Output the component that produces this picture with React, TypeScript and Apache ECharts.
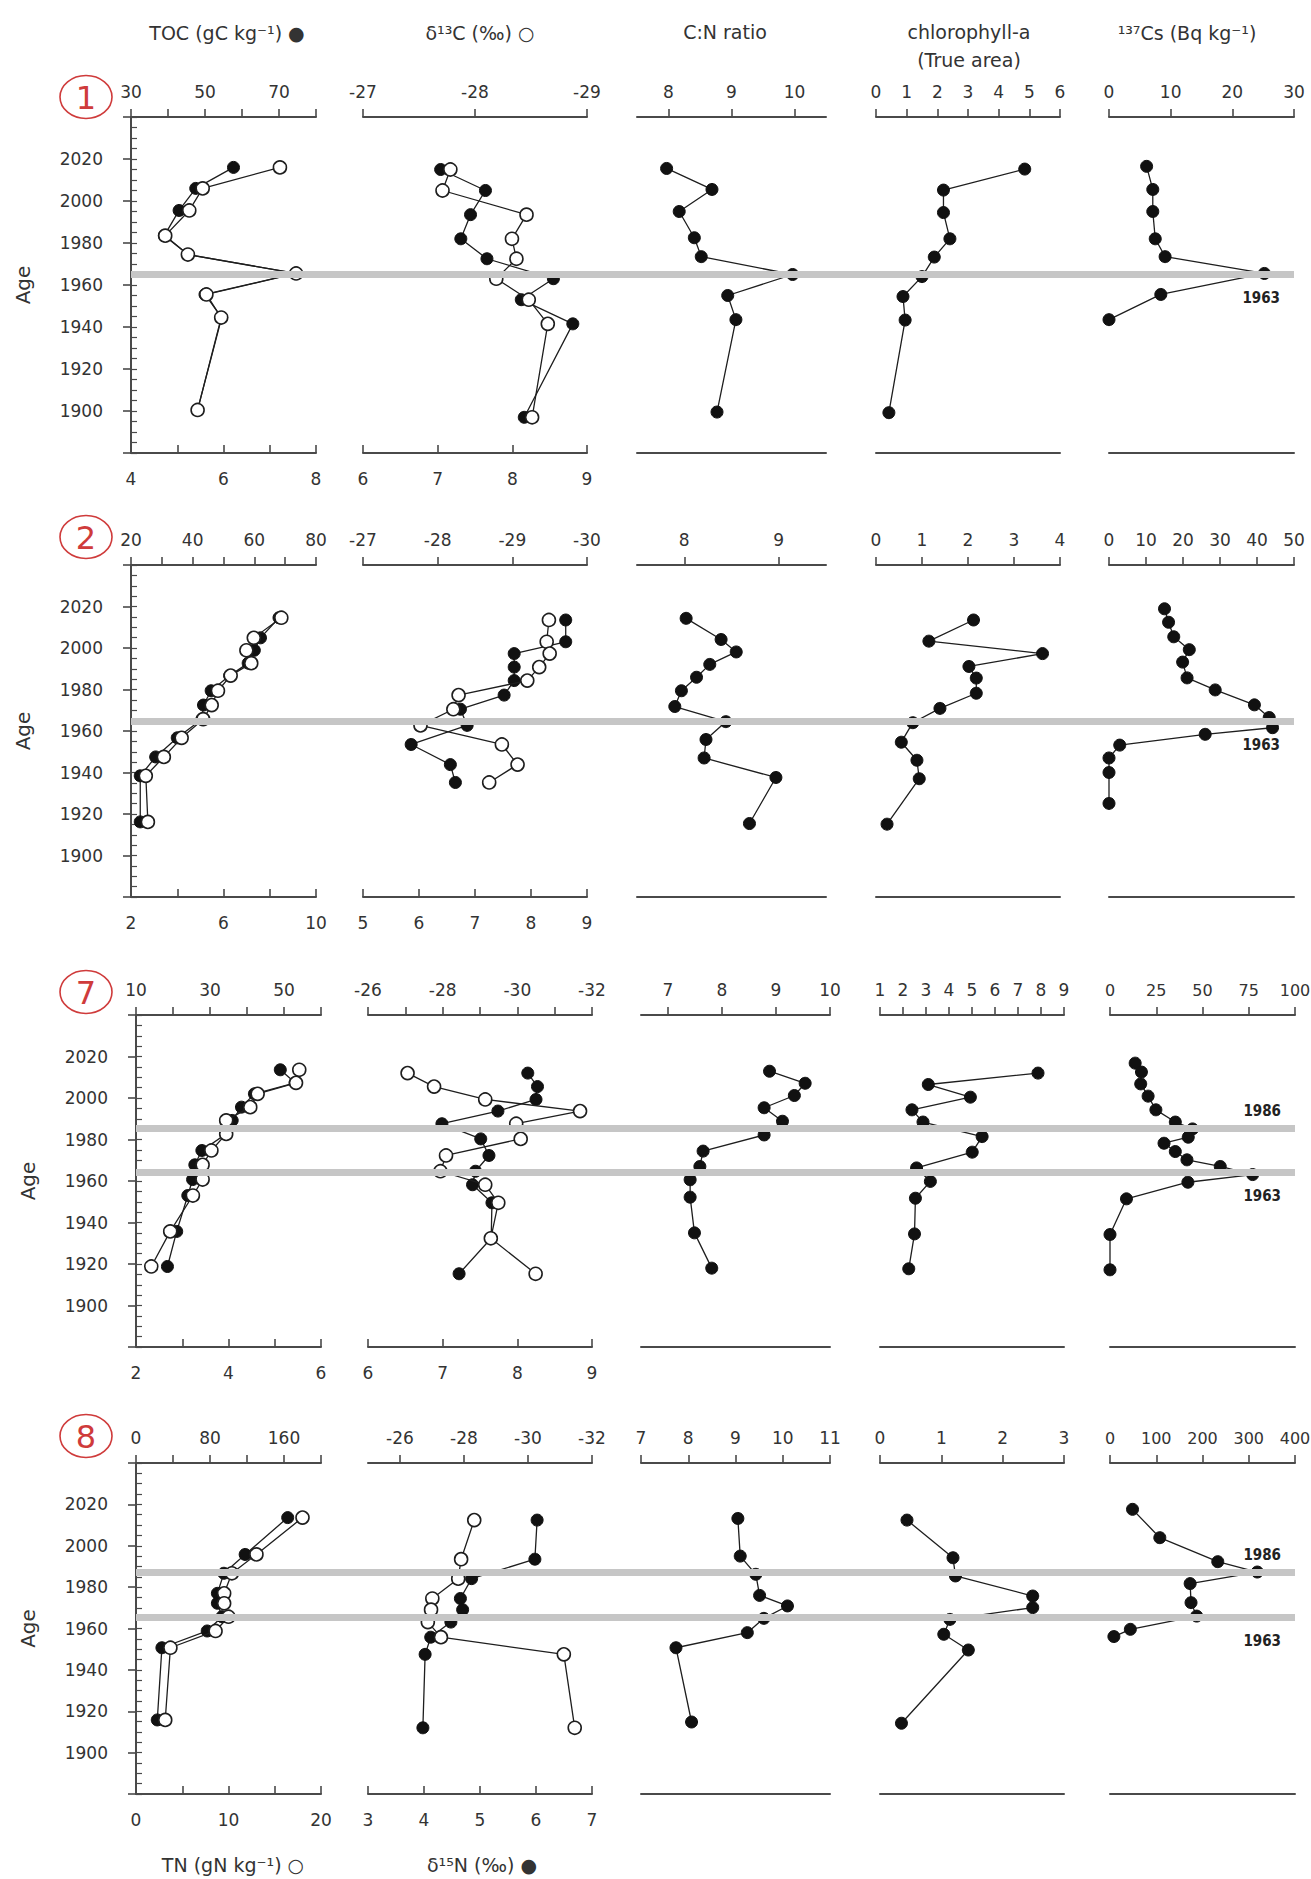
import React, { useEffect, useRef } from "react";
import * as echarts from "echarts";

const FONT = "DejaVu Sans";
const TXT = "#333333";
const AX = "#4a4a4a";
const RED = "#cf3b3b";

// ---------------- Lake 1 ----------------
const age1 = [2016, 2006, 1995.5, 1983.5, 1974.5, 1965.5, 1955.5, 1944.5, 1900.5];
const toc1 = [57.7, 47.5, 43, 39, 45.4, 74.5, 50, 54.5, 48];
const tn1 = [7.22, 5.55, 5.26, 4.74, 5.23, 7.57, 5.63, 5.95, 5.44];
const ageIso1 = [2015, 2005, 1993.5, 1982, 1972.5, 1963, 1953, 1941.5, 1897];
const d13c1 = [-27.78, -27.71, -28.46, -28.33, -28.37, -28.19, -28.48, -28.65, -28.51];
const d15n1 = [7.04, 7.64, 7.44, 7.31, 7.66, 8.55, 8.12, 8.81, 8.16];
const ageCn1 = [2015.5, 2005.5, 1995, 1982.5, 1973.5, 1965, 1955, 1943.5, 1899.5];
const cn1 = [7.97, 8.69, 8.17, 8.41, 8.52, 9.97, 8.94, 9.07, 8.77];
const ageChl1 = [2015.2, 2005.2, 1994.5, 1982, 1973.3, 1964, 1954.5, 1943.3, 1899.2];
const chl1 = [4.85, 2.2, 2.2, 2.41, 1.9, 1.5, 0.88, 0.95, 0.42];
const ageCs1 = [2016.5, 2005.5, 1995, 1982, 1973.5, 1965.5, 1955.5, 1943.5];
const cs1 = [6.1, 7.1, 7.1, 7.5, 9.1, 25.2, 8.4, 0];

// ---------------- Lake 2 ----------------
const age2 = [2014.6, 2004.9, 1998.9, 1992.7, 1986.7, 1979.4, 1972.5, 1965.7, 1956.7, 1947.5, 1938.4, 1916.2];
const toc2 = [68, 62, 60, 58, 52, 46, 43.5, 43, 35, 28, 23, 23];
const tn2 = [8.5, 7.31, 6.99, 7.2, 6.31, 5.76, 5.49, 5.12, 4.19, 3.42, 2.64, 2.73];
const ageIso2 = [2013.5, 2003, 1997.3, 1990.8, 1984.3, 1977.3, 1970.5, 1962.7, 1953.5, 1943.8, 1935.2];
const d13c2 = [-29.49, -29.46, -29.5, -29.36, -29.2, -28.28, -28.21, -27.77, -28.86, -29.07, -28.69];
const d15n2 = [8.62, 8.62, 7.7, 7.7, 7.7, 7.52, 6.74, 6.86, 5.86, 6.56, 6.65];
const ageCn2 = [2014.3, 2004.1, 1998.1, 1992.1, 1985.9, 1979.4, 1971.8, 1964.5, 1955.9, 1947, 1937.6, 1915.4];
const cn2 = [8.02, 8.39, 8.55, 8.27, 8.13, 7.97, 7.9, 8.44, 8.23, 8.21, 8.97, 8.69];
const ageChl2 = [2013.5, 2003.3, 1997.3, 1991.1, 1985.5, 1978.2, 1970.9, 1964, 1954.6, 1945.9, 1937, 1915.1];
const chl2 = [2.12, 1.15, 3.62, 2.02, 2.18, 2.18, 1.39, 0.8, 0.55, 0.89, 0.94, 0.24];
const ageCs2 = [2018.9, 2012.4, 2005.4, 1999.2, 1993.2, 1985.6, 1979.8, 1972.6, 1966.5, 1961.6, 1958.4, 1953.2, 1947, 1940, 1925.1];
const cs2 = [15, 16.1, 17.5, 21.7, 19.9, 21.1, 28.7, 39.3, 43.3, 44.2, 26, 2.9, 0, 0, 0];

// ---------------- Lake 7 ----------------
const age3 = [2013.6, 2007.3, 2002, 1995.6, 1989.2, 1982.7, 1974.7, 1967.8, 1960.7, 1953, 1935.7, 1918.8];
const toc3 = [49, 53, 42, 38.5, 36, 34.4, 27.8, 25.9, 25.3, 24, 21, 18.5];
const tn3 = [5.53, 5.46, 4.63, 4.47, 3.95, 3.95, 3.63, 3.44, 3.44, 3.23, 2.74, 2.33];
const ageIso3 = [2012, 2005.5, 1999.3, 1993.7, 1987.6, 1980.3, 1972.3, 1964.7, 1958.2, 1949.5, 1932.4, 1915.3];
const d13c3 = [-27.06, -27.77, -29.14, -31.68, -29.97, -30.09, -28.09, -27.94, -29.14, -29.49, -29.29, -30.49];
const d15n3 = [8.14, 8.27, 8.25, 7.74, 6.99, 7.51, 7.62, 7.44, 7.4, 7.66, 7.65, 7.22];
const ageCn3 = [2012.9, 2007.1, 2001.2, 1995.3, 1988.8, 1982.2, 1974.4, 1967, 1960.6, 1952.2, 1935, 1918];
const cn3 = [8.88, 9.54, 9.34, 8.78, 9.12, 8.78, 7.65, 7.59, 7.41, 7.41, 7.49, 7.81];
const ageChl3 = [2012, 2006.5, 2000.4, 1994.3, 1988.4, 1981.4, 1973.9, 1966.3, 1959.8, 1951.7, 1934.5, 1917.7];
const chl3 = [7.87, 3.1, 4.93, 2.39, 2.87, 5.44, 5.01, 2.59, 3.19, 2.54, 2.5, 2.25];
const ageCs3 = [2016.8, 2012.5, 2006.8, 2000.9, 1994.3, 1988.4, 1985.1, 1981.1, 1978.2, 1974.2, 1970.2, 1967, 1963.1, 1959.4, 1951.4, 1934.2, 1917.2];
const cs3 = [13.6, 17, 16.6, 20.6, 24.8, 35.3, 44.6, 42.3, 29.2, 35.3, 41.6, 59.6, 77.1, 42.1, 8.9, 0, 0];

// ---------------- Lake 8 ----------------
const age4 = [2013.6, 1995.8, 1986.7, 1977, 1972.2, 1965.7, 1958.8, 1950.7, 1915.8];
const toc4 = [164, 118, 95, 88, 88, 93, 77, 28, 23];
const tn4 = [18, 13.02, 10.37, 9.53, 9.53, 10, 8.6, 3.72, 3.16];
const ageIso4 = [2012.4, 1993.5, 1984.1, 1974.5, 1969.1, 1963.1, 1955.8, 1947.5, 1912];
const d13c4 = [-28.32, -27.91, -27.82, -27.01, -26.97, -26.87, -27.28, -31.12, -31.46];
const d15n4 = [6.02, 5.98, 4.85, 4.65, 4.69, 4.48, 4.12, 4.02, 3.98];
const ageCn4 = [2013.2, 1995, 1986.2, 1976, 1970.9, 1964.9, 1958, 1950.7, 1914.8];
const cn4 = [9.05, 9.1, 9.43, 9.51, 10.1, 9.6, 9.25, 7.74, 8.07];
const ageChl4 = [2012.4, 1994.2, 1985.4, 1975.7, 1970.1, 1964.4, 1957.2, 1949.6, 1914.2];
const chl4 = [0.44, 1.19, 1.23, 2.49, 2.49, 1.14, 1.04, 1.44, 0.35];
const ageCs4 = [2017.6, 2003.9, 1992.3, 1987.3, 1981.7, 1972.5, 1966, 1959.6, 1956.1];
const cs4 = [48.7, 107.7, 233, 318.5, 173.3, 175.2, 187.4, 44, 8.4];

// ---------------- marker bands (year) and labels ----------------
const bands1 = [1965];
const bandText1 = ["1963"];
const bands2 = [1964.5];
const bandText2 = ["1963"];
const bands3 = [1985.5, 1964.3];
const bandText3 = ["1986", "1963"];
const bands4 = [1987, 1965.2];
const bandText4 = ["1986", "1963"];

// ---------------- axis scales & tick labels ----------------
const ageTicks = [1880, 1900, 1920, 1940, 1960, 1980, 2000, 2020, 2040];
const ageLabels = [1900, 1920, 1940, 1960, 1980, 2000, 2020];

const axToc1 = { min: 30, max: 80, ticks: [30, 40, 50, 60, 70, 80], labels: [30, 50, 70] };
const axTn1 = { min: 4, max: 8, ticks: [4, 5, 6, 7, 8], labels: [4, 6, 8] };
const axD13c1 = { min: -29, max: -27, inverse: true, ticks: [-29, -28, -27], labels: [-29, -28, -27] };
const axD15n1 = { min: 6, max: 9, ticks: [6, 7, 8, 9], labels: [6, 7, 8, 9] };
const axCn1 = { min: 7.5, max: 10.5, ticks: [8, 9, 10], labels: [8, 9, 10] };
const axChl1 = { min: 0, max: 6, ticks: [0, 1, 2, 3, 4, 5, 6], labels: [0, 1, 2, 3, 4, 5, 6] };
const axCs1 = { min: 0, max: 30, ticks: [0, 10, 20, 30], labels: [0, 10, 20, 30] };

const axToc2 = { min: 20, max: 80, ticks: [20, 30, 40, 50, 60, 70, 80], labels: [20, 40, 60, 80] };
const axTn2 = { min: 2, max: 10, ticks: [2, 4, 6, 8, 10], labels: [2, 6, 10] };
const axD13c2 = { min: -30, max: -27, inverse: true, ticks: [-30, -29, -28, -27], labels: [-30, -29, -28, -27] };
const axD15n2 = { min: 5, max: 9, ticks: [5, 6, 7, 8, 9], labels: [5, 6, 7, 8, 9] };
const axCn2 = { min: 7.5, max: 9.5, ticks: [8, 9], labels: [8, 9] };
const axChl2 = { min: 0, max: 4, ticks: [0, 1, 2, 3, 4], labels: [0, 1, 2, 3, 4] };
const axCs2 = { min: 0, max: 50, ticks: [0, 10, 20, 30, 40, 50], labels: [0, 10, 20, 30, 40, 50] };

const axToc3 = { min: 10, max: 60, ticks: [10, 20, 30, 40, 50, 60], labels: [10, 30, 50] };
const axTn3 = { min: 2, max: 6, ticks: [2, 3, 4, 5, 6], labels: [2, 4, 6] };
const axD13c3 = { min: -32, max: -26, inverse: true, ticks: [-32, -31, -30, -29, -28, -27, -26], labels: [-32, -30, -28, -26] };
const axD15n3 = { min: 6, max: 9, ticks: [6, 7, 8, 9], labels: [6, 7, 8, 9] };
const axCn3 = { min: 6.5, max: 10, ticks: [7, 8, 9, 10], labels: [7, 8, 9, 10] };
const axChl3 = { min: 1, max: 9, ticks: [1, 2, 3, 4, 5, 6, 7, 8, 9], labels: [1, 2, 3, 4, 5, 6, 7, 8, 9] };
const axCs3 = { min: 0, max: 100, ticks: [0, 25, 50, 75, 100], labels: [0, 25, 50, 75, 100], fontSize: 16 };

const axToc4 = { min: 0, max: 200, ticks: [0, 40, 80, 120, 160, 200], labels: [0, 80, 160] };
const axTn4 = { min: 0, max: 20, ticks: [0, 5, 10, 15, 20], labels: [0, 10, 20] };
const axD13c4 = { min: -32, max: -25, inverse: true, ticks: [-32, -30, -28, -26], labels: [-32, -30, -28, -26] };
const axD15n4 = { min: 3, max: 7, ticks: [3, 4, 5, 6, 7], labels: [3, 4, 5, 6, 7] };
const axCn4 = { min: 7, max: 11, ticks: [7, 8, 9, 10, 11], labels: [7, 8, 9, 10, 11] };
const axChl4 = { min: 0, max: 3, ticks: [0, 1, 2, 3], labels: [0, 1, 2, 3] };
const axCs4 = { min: 0, max: 400, ticks: [0, 100, 200, 300, 400], labels: [0, 100, 200, 300, 400], fontSize: 16 };

const circleLabels = ["1", "2", "7", "8"];

// ---------------- layout (px) ----------------
const ROW_TOP = [117, 565, 1015, 1463];
const ROW_BOTTOM = [453, 897, 1347, 1794];
const ROW_SHIFT = [
  [0, 0, 0, 0, 0],
  [0, 0, 0, 0, 0],
  [5, 5, 4, 4, 1],
  [5, 5, 4, 4, 1],
];
const CIRCLE_Y = [97, 537, 992, 1436];
const COLS = [
  [131, 316],
  [363, 587],
  [637, 826],
  [876, 1060],
  [1109, 1294],
];

function panels(
  a: number[], toc: number[], tn: number[], ai: number[], d13: number[], d15: number[],
  ac: number[], cn: number[], ah: number[], chl: number[], as: number[], cs: number[],
  ax: any[]
) {
  return [
    { top: ax[0], bottom: ax[1], series: [
      { axis: "top", x: toc, age: a, filled: true },
      { axis: "bottom", x: tn, age: a, filled: false },
    ] },
    { top: ax[2], bottom: ax[3], series: [
      { axis: "bottom", x: d15, age: ai, filled: true },
      { axis: "top", x: d13, age: ai, filled: false },
    ] },
    { top: ax[4], bottom: null, series: [{ axis: "top", x: cn, age: ac, filled: true }] },
    { top: ax[5], bottom: null, series: [{ axis: "top", x: chl, age: ah, filled: true }] },
    { top: ax[6], bottom: null, series: [{ axis: "top", x: cs, age: as, filled: true }] },
  ];
}

const ROWS = [
  { panels: panels(age1, toc1, tn1, ageIso1, d13c1, d15n1, ageCn1, cn1, ageChl1, chl1, ageCs1, cs1,
      [axToc1, axTn1, axD13c1, axD15n1, axCn1, axChl1, axCs1]), bands: bands1, bandText: bandText1 },
  { panels: panels(age2, toc2, tn2, ageIso2, d13c2, d15n2, ageCn2, cn2, ageChl2, chl2, ageCs2, cs2,
      [axToc2, axTn2, axD13c2, axD15n2, axCn2, axChl2, axCs2]), bands: bands2, bandText: bandText2 },
  { panels: panels(age3, toc3, tn3, ageIso3, d13c3, d15n3, ageCn3, cn3, ageChl3, chl3, ageCs3, cs3,
      [axToc3, axTn3, axD13c3, axD15n3, axCn3, axChl3, axCs3]), bands: bands3, bandText: bandText3 },
  { panels: panels(age4, toc4, tn4, ageIso4, d13c4, d15n4, ageCn4, cn4, ageChl4, chl4, ageCs4, cs4,
      [axToc4, axTn4, axD13c4, axD15n4, axCn4, axChl4, axCs4]), bands: bands4, bandText: bandText4 },
];

function xAx(gi: number, pos: string, a: any, withScale: boolean) {
  return {
    type: "value",
    gridIndex: gi,
    position: pos,
    min: a.min,
    max: a.max,
    inverse: !!a.inverse,
    axisLine: { show: true, onZero: false, lineStyle: { color: AX, width: 2 } },
    axisTick: withScale
      ? { show: true, inside: pos === "bottom", length: 8, customValues: a.ticks, lineStyle: { color: AX, width: 1.6 } }
      : { show: false },
    axisLabel: withScale
      ? {
          show: true,
          customValues: a.labels,
          margin: 17,
          color: TXT,
          fontSize: a.fontSize || 17,
          fontFamily: FONT,
          formatter: (v: number) => String(v),
        }
      : { show: false },
    splitLine: { show: false },
  };
}

function buildOption() {
  const grid: any[] = [];
  const xAxis: any[] = [];
  const yAxis: any[] = [];
  const series: any[] = [];
  const minorAge: number[] = [];
  for (let y = 1880; y <= 2040; y += 5) minorAge.push(y);

  ROWS.forEach((row, r) => {
    const top = ROW_TOP[r];
    const height = ROW_BOTTOM[r] - ROW_TOP[r];
    const sh = ROW_SHIFT[r];

    // band grid spanning all panels
    const bg = grid.length;
    const bandLeft = COLS[0][0] + sh[0];
    const bandRight = COLS[4][1] + sh[4];
    grid.push({ left: bandLeft, width: bandRight - bandLeft, top, height, containLabel: false, outerBoundsMode: "none" });
    const bx = xAxis.length;
    xAxis.push({ type: "value", gridIndex: bg, min: 0, max: 1, show: false });
    const by = yAxis.length;
    yAxis.push({ type: "value", gridIndex: bg, min: 1880, max: 2040, show: false });
    series.push({
      type: "line",
      xAxisIndex: bx,
      yAxisIndex: by,
      data: [],
      silent: true,
      z: 1,
      markLine: {
        silent: true,
        symbol: ["none", "none"],
        lineStyle: { color: "#c6c6c6", width: 7, type: "solid" },
        data: row.bands.map((b, i) => {
          const above = row.bandText[i] === "1986";
          return {
            yAxis: b,
            label: {
              show: true,
              formatter: row.bandText[i],
              position: above ? "insideEndTop" : "insideEndBottom",
              distance: above ? [14, 10] : [14, 16],
              color: "#222",
              fontSize: 15,
              fontWeight: "bold",
              fontFamily: "'DejaVu Sans Condensed', 'Liberation Sans Narrow', 'DejaVu Sans'",
            },
          };
        }),
      },
    });

    row.panels.forEach((p: any, c: number) => {
      const gi = grid.length;
      grid.push({ left: COLS[c][0] + sh[c], width: COLS[c][1] - COLS[c][0], top, height, containLabel: false, outerBoundsMode: "none" });
      const xt = xAxis.length;
      xAxis.push(xAx(gi, "top", p.top, true));
      const xb = xAxis.length;
      xAxis.push(p.bottom ? xAx(gi, "bottom", p.bottom, true) : xAx(gi, "bottom", p.top, false));
      const yi = yAxis.length;
      if (c === 0) {
        yAxis.push({
          type: "value",
          gridIndex: gi,
          position: "left",
          min: 1880,
          max: 2040,
          name: "Age",
          nameLocation: "middle",
          nameGap: 98,
          nameTextStyle: { color: TXT, fontSize: 20, fontFamily: FONT },
          axisLine: { show: true, onZero: false, lineStyle: { color: AX, width: 2 } },
          axisTick: { show: true, inside: false, length: 8, customValues: ageTicks, lineStyle: { color: AX, width: 1.6 } },
          axisLabel: {
            show: true,
            customValues: ageLabels,
            margin: 28,
            color: TXT,
            fontSize: 17,
            fontFamily: FONT,
            formatter: (v: number) => String(v),
          },
          splitLine: { show: false },
        });
        yAxis.push({
          type: "value",
          gridIndex: gi,
          position: "left",
          min: 1880,
          max: 2040,
          axisLine: { show: false },
          axisTick: { show: true, inside: true, length: 6, customValues: minorAge, lineStyle: { color: AX, width: 1.2 } },
          axisLabel: { show: false },
          splitLine: { show: false },
        });
      } else {
        yAxis.push({ type: "value", gridIndex: gi, min: 1880, max: 2040, show: false });
      }
      p.series.forEach((s: any) => {
        series.push({
          type: "line",
          xAxisIndex: s.axis === "top" ? xt : xb,
          yAxisIndex: yi,
          data: s.x.map((v: number, i: number) => [v, s.age[i]]),
          symbol: "circle",
          symbolSize: s.filled ? 12 : 13,
          showSymbol: true,
          silent: true,
          z: s.filled ? 3 : 4,
          lineStyle: { color: "#1e1e1e", width: 1.3 },
          itemStyle: s.filled
            ? { color: "#111", borderColor: "#111", borderWidth: 1 }
            : { color: "#fff", borderColor: "#1e1e1e", borderWidth: 1.6 },
        });
      });
    });
  });

  const text = (t: string, x: number, y: number, size: number, color = TXT) => ({
    type: "text",
    x,
    y,
    silent: true,
    style: {
      text: t,
      fill: color,
      font: `${size}px ${FONT}`,
      align: "center",
      verticalAlign: "middle",
      textAlign: "center",
      textVerticalAlign: "middle",
    },
  });

  const graphic: any[] = [
    text("TOC (gC kg\u207B\u00B9) \u25CF", 227, 33, 19),
    text("\u03B4\u00B9\u00B3C (\u2030) \u25CB", 480, 33, 19),
    text("C:N ratio", 725, 32, 19),
    text("chlorophyll-a", 969, 32, 19),
    text("(True area)", 969, 60, 19),
    text("\u00B9\u00B3\u2077Cs (Bq kg\u207B\u00B9)", 1187, 33, 19),
    text("TN (gN kg\u207B\u00B9) \u25CB", 233, 1865, 19),
    text("\u03B4\u00B9\u2075N (\u2030) \u25CF", 482, 1865, 19),
  ];
  circleLabels.forEach((lab, r) => {
    graphic.push({
      type: "ellipse",
      silent: true,
      shape: { cx: 86, cy: CIRCLE_Y[r], rx: 26, ry: 21.5 },
      style: { fill: "transparent", stroke: RED, lineWidth: 1.6 },
    });
    graphic.push(text(lab, 86, CIRCLE_Y[r] + 1, 32, RED));
  });

  return {
    animation: false,
    backgroundColor: "#ffffff",
    grid,
    xAxis,
    yAxis,
    series,
    graphic,
  };
}

export default function App() {
  const ref = useRef<HTMLDivElement>(null);
  useEffect(() => {
    document.body.style.margin = "0";
    if (!ref.current) return;
    const chart = echarts.init(ref.current, null, { renderer: "svg" });
    chart.setOption(buildOption() as any);
    return () => chart.dispose();
  }, []);
  return <div ref={ref} style={{ width: 1311, height: 1879, background: "#fff" }} />;
}
